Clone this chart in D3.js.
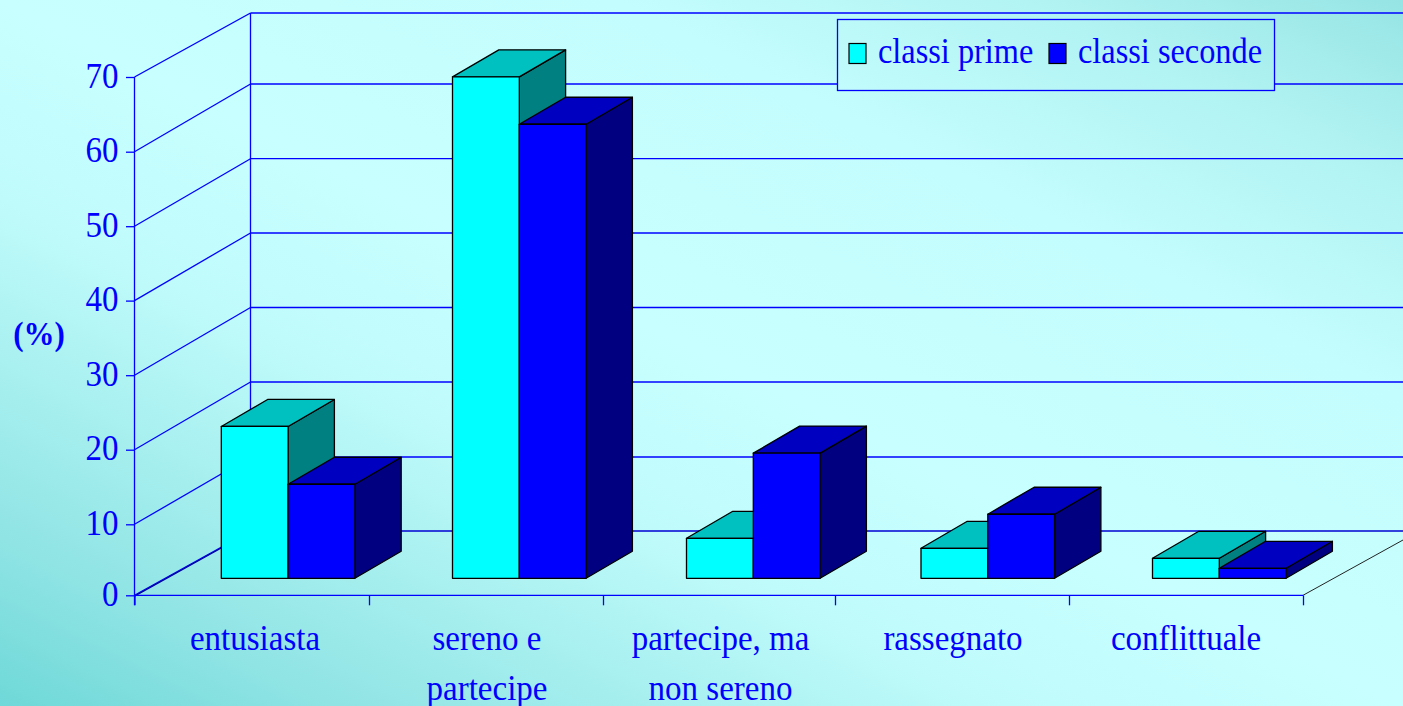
<!DOCTYPE html>
<html><head><meta charset="utf-8">
<script src="https://cdn.jsdelivr.net/npm/d3@7"></script>
<style>html,body{margin:0;padding:0;overflow:hidden;background:#c8ffff}svg{display:block}text{font-family:"Liberation Serif",serif;fill:#0000ff}</style>
</head><body><svg id="c" width="1403" height="706"></svg>
<script>
const categories = [["entusiasta"],["sereno e","partecipe"],["partecipe, ma","non sereno"],["rassegnato"],["conflittuale"]];
const classiPrime = [20.5,67.7,5.4,4.05,2.7];
const classiSeconde = [12.7,61.3,16.9,8.65,1.35];
const seriesNames = ["classi prime","classi seconde"];
const yTicks = [0,10,20,30,40,50,60,70];
const frontColors = ["#00ffff","#0000ff"];
const topColors = ["#00c0c0","#0000c0"];
const sideColors = ["#008080","#000080"];

const W=1403,H=706,BLUE="#0000ff",LW=1.3,SY=1.09;
const svg=d3.select("#c");
const defs=svg.append("defs");
const g=defs.append("linearGradient").attr("id","bg").attr("gradientUnits","userSpaceOnUse")
  .attr("gradientTransform",`scale(${W},${H})`)
  .attr("x1",0).attr("y1",1).attr("x2",1).attr("y2",0);
[[0,"#6fd8d8"],[0.12,"#90e4e4"],[0.36,"#c0fbfb"],[0.5,"#c8ffff"],[0.72,"#c4fdfd"],[0.88,"#b0f2f2"],[1,"#96e4e4"]]
 .forEach(s=>g.append("stop").attr("offset",s[0]).attr("stop-color",s[1]));
svg.append("rect").attr("width",W).attr("height",H).attr("fill","url(#bg)");

// value scale for the bars; the reference's rasterised axis gridlines are slightly uneven
const y=d3.scaleLinear().domain([0,70]).range([595.5,77]);
const yFront=d3.scaleLinear().domain(yTicks).range([595.3,524.3,449.7,375.2,300.6,226.2,151.7,77]);
const yBack=d3.scaleLinear().domain(yTicks).range([531,457,382,307.5,233,158.7,84,13]);
const left=134.5, right=1303, backX=250.5;
const xTick=d3.scaleOrdinal().domain([0,1,2,3,4,5]).range([left,369,603,835,1069,right]);

// walls and gridlines
const grid=svg.append("g").attr("fill","none").attr("stroke",BLUE).attr("stroke-width",LW);
grid.selectAll(".b").data(yTicks).join("line").attr("x1",backX).attr("x2",W)
  .attr("y1",d=>yBack(d)).attr("y2",d=>yBack(d)).attr("stroke",d=>d===0?"#0000d0":BLUE);
grid.selectAll(".d").data(yTicks).join("line").attr("x1",left).attr("x2",backX)
  .attr("y1",d=>yFront(d)).attr("y2",d=>yBack(d));
grid.append("line").attr("x1",backX).attr("x2",backX).attr("y1",yBack(70)).attr("y2",yBack(0));
grid.append("line").attr("x1",left).attr("x2",backX).attr("y1",yFront(0)+.8).attr("y2",yBack(0)+.8).attr("stroke","#0000a0");
svg.append("line").attr("x1",right).attr("y1",yFront(0)).attr("x2",W).attr("y2",540)
  .attr("stroke","#222").attr("stroke-width",1);

// axes
const yAxis=d3.axisLeft(yFront).tickValues(yTicks).tickSize(8.5).tickFormat(d3.format("d"));
const ya=svg.append("g").attr("transform",`translate(${left},0)`).call(yAxis);
ya.select(".domain").attr("stroke",BLUE).attr("stroke-width",LW).attr("d",`M0,${yFront(70)}V${yFront(0)+10}`);
ya.selectAll(".tick line").attr("stroke",BLUE).attr("stroke-width",LW);
ya.selectAll("text").attr("font-size",33).attr("x",0).attr("dy",0).attr("y",0)
  .attr("transform",`translate(-16,10) scale(1,${SY})`).style("font-family","Liberation Serif").style("fill",BLUE);

const xAxis=d3.axisBottom(xTick).tickValues([0,1,2,3,4,5]).tickSize(10).tickFormat("");
const xa=svg.append("g").attr("transform",`translate(0,${yFront(0)})`).call(xAxis);
xa.select(".domain").attr("stroke",BLUE).attr("stroke-width",LW).attr("d",`M${left},0H${right}`);
xa.selectAll(".tick line").attr("stroke",BLUE).attr("stroke-width",LW);

// bars
const barW=66.8, base=578.3, ddx=46.3, ddy=-27;
const groupX=d3.scaleOrdinal().domain([0,1,2,3,4]).range([221.3,452.5,686.5,921,1152.5]);
const bx=(i,s)=>groupX(i)+s*barW;
const h=v=>y(0)-y(v);
const ptsStr=p=>p.map(q=>q.join(",")).join(" ");
const bars=svg.append("g").attr("stroke","#000").attr("stroke-width",LW).attr("stroke-linejoin","round");
const flat=[];
categories.forEach((c,i)=>{flat.push({i,s:0,v:classiPrime[i]});flat.push({i,s:1,v:classiSeconde[i]});});
const cell=bars.selectAll("g").data(flat).join("g");
cell.append("polygon").attr("fill",d=>sideColors[d.s]).attr("points",d=>{
  const X=bx(d.i,d.s)+barW,T=base-h(d.v);
  return ptsStr([[X,T],[X+ddx,T+ddy],[X+ddx,base+ddy],[X,base]]);});
cell.append("polygon").attr("fill",d=>topColors[d.s]).attr("points",d=>{
  const X=bx(d.i,d.s),T=base-h(d.v);
  return ptsStr([[X,T],[X+barW,T],[X+barW+ddx,T+ddy],[X+ddx,T+ddy]]);});
cell.append("rect").attr("fill",d=>frontColors[d.s])
  .attr("x",d=>bx(d.i,d.s)).attr("width",barW)
  .attr("y",d=>base-h(d.v)).attr("height",d=>h(d.v));

// text helper: the reference's type is taller than it is wide
function label(parent,t,px,py,fs,sx,anchor,bold){
  const el=parent.append("text").attr("text-anchor",anchor||"middle").attr("font-size",fs)
    .attr("transform",`translate(${px},${py}) scale(${sx},${SY})`).text(t);
  if(bold) el.attr("font-weight","bold");
  return el;
}
const labelX=d3.scaleOrdinal().domain([0,1,2,3,4]).range([255,487,720.5,953,1186]);
const lab=svg.append("g");
categories.forEach((c,i)=>c.forEach((t,j)=>label(lab,t,labelX(i),649.5+j*50,33,1.0)));
label(svg,"(%)",39,345,31,1,"middle",true);

// legend
svg.append("rect").attr("x",837.5).attr("y",19.5).attr("width",437).attr("height",71)
  .attr("fill","url(#bg)").attr("stroke",BLUE).attr("stroke-width",LW);
const lx=[849,1049], tx=[878,1078];
seriesNames.forEach((n,i)=>{
  svg.append("rect").attr("x",lx[i]).attr("y",43.5).attr("width",17).attr("height",20)
    .attr("fill",frontColors[i]).attr("stroke","#000").attr("stroke-width",1.2);
  label(svg,n,tx[i],63,33,0.98,"start");
});
</script></body></html>
